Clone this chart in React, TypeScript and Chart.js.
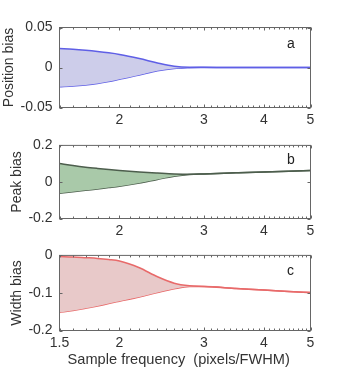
import React, { useEffect, useRef } from 'react';
import { Chart, registerables } from 'chart.js';

Chart.register(...registerables);

// ---- data ----
const SAMPLE_FREQ = [1.5, 1.6, 1.7, 1.8, 1.9, 2.0, 2.2, 2.4, 2.6, 2.8, 3.0, 3.5, 4.0, 4.5, 5.0];

const POSITION_UPPER = [0.0238, 0.0228, 0.0215, 0.02, 0.0183, 0.0163, 0.0112, 0.0057, 0.0016, 0.0003, 0.0002, 0.0001, 0.0001, 0.0, 0.0];
const POSITION_LOWER = [-0.0242, -0.0232, -0.0218, -0.02, -0.0176, -0.0148, -0.0095, -0.0042, -0.0012, -0.0003, -0.0001, 0.0, 0.0, 0.0, 0.0];

const PEAK_UPPER = [0.101, 0.09, 0.081, 0.074, 0.068, 0.063, 0.055, 0.049, 0.044, 0.042, 0.044, 0.05, 0.055, 0.059, 0.062];
const PEAK_LOWER = [-0.0625, -0.054, -0.046, -0.038, -0.031, -0.024, -0.006, 0.014, 0.031, 0.041, 0.044, 0.05, 0.055, 0.059, 0.062];

const WIDTH_UPPER = [-0.003, -0.004, -0.006, -0.008, -0.011, -0.015, -0.033, -0.057, -0.074, -0.081, -0.083, -0.088, -0.092, -0.096, -0.099];
const WIDTH_LOWER = [-0.152, -0.147, -0.141, -0.135, -0.128, -0.122, -0.111, -0.099, -0.089, -0.083, -0.083, -0.088, -0.092, -0.096, -0.099];

const X_TICKS_TOP = [2, 3, 4, 5];
const X_TICKS_BOTTOM = [1.5, 2, 3, 4, 5];
const Y_TICKS_POSITION = [-0.05, 0, 0.05];
const Y_TICKS_PEAK = [-0.2, 0, 0.2];
const Y_TICKS_WIDTH = [-0.2, -0.1, 0];

const Y_TITLES = ['Position bias', 'Peak bias', 'Width bias'];
const PANEL_LETTERS = ['a', 'b', 'c'];
const X_TITLE = 'Sample frequency  (pixels/FWHM)';

const FONT = '"Liberation Sans", Arial, Helvetica, sans-serif';
const TEXT = '#333333';

const framePlugin = {
  id: 'frame',
  afterDatasetsDraw(chart: any, _args: any, opts: any) {
    const { ctx, chartArea, scales } = chart;
    const { left, right, top, bottom } = chartArea;
    ctx.save();
    ctx.strokeStyle = '#666666';
    ctx.lineWidth = 1;
    ctx.strokeRect(left, top, right - left, bottom - top);
    ctx.beginPath();
    const xs = scales.x;
    for (let i = 15; i <= 50; i++) {
      const v = i / 10;
      const px = Math.round(xs.getPixelForValue(v)) + 0.5;
      const len = i % 10 === 0 ? 3 : 2;
      ctx.moveTo(px, bottom);
      ctx.lineTo(px, bottom - len);
      ctx.moveTo(px, top);
      ctx.lineTo(px, top + len);
    }
    const ys = scales.y;
    (opts.yTicks || []).forEach((v: number) => {
      const py = Math.round(ys.getPixelForValue(v)) + 0.5;
      ctx.moveTo(left, py);
      ctx.lineTo(left + 3, py);
      ctx.moveTo(right, py);
      ctx.lineTo(right - 3, py);
    });
    ctx.stroke();
    ctx.fillStyle = '#222222';
    ctx.font = '14px ' + FONT;
    ctx.textAlign = 'left';
    ctx.textBaseline = 'alphabetic';
    ctx.fillText(opts.letter, right - 23.5, top + opts.letterDy);
    ctx.restore();
  },
};

type Panel = {
  top: number;
  height: number;
  areaTop: number;
  areaBottom: number;
  upper: number[];
  lower: number[];
  line: string;
  fill: string;
  yMin: number;
  yMax: number;
  yTicks: number[];
  xTicks: number[];
  yTitle: string;
  yTitlePad: number;
  letter: string;
  letterDy: number;
  xTitle?: string;
};

const PANELS: Panel[] = [
  {
    top: 0, height: 130, areaTop: 27.5, areaBottom: 107.5,
    upper: POSITION_UPPER, lower: POSITION_LOWER,
    line: '#5f5fe6', fill: '#cdcdea',
    yMin: -0.05, yMax: 0.05, yTicks: Y_TICKS_POSITION, xTicks: X_TICKS_TOP,
    yTitle: Y_TITLES[0], yTitlePad: 1, letter: PANEL_LETTERS[0], letterDy: 20.5,
  },
  {
    top: 130, height: 110, areaTop: 138.5, areaBottom: 218.5,
    upper: PEAK_UPPER, lower: PEAK_LOWER,
    line: '#4d5e4d', fill: '#a9c9a9',
    yMin: -0.2, yMax: 0.2, yTicks: Y_TICKS_PEAK, xTicks: X_TICKS_TOP,
    yTitle: Y_TITLES[1], yTitlePad: 9, letter: PANEL_LETTERS[1], letterDy: 18.5,
  },
  {
    top: 240, height: 131, areaTop: 252.5, areaBottom: 330.5,
    upper: WIDTH_UPPER, lower: WIDTH_LOWER,
    line: '#e86a6a', fill: '#e8c9c9',
    yMin: -0.2, yMax: 0, yTicks: Y_TICKS_WIDTH, xTicks: X_TICKS_BOTTOM,
    yTitle: Y_TITLES[2], yTitlePad: 9, letter: PANEL_LETTERS[2], letterDy: 19.5, xTitle: X_TITLE,
  },
];

function PanelChart({ p }: { p: Panel }) {
  const ref = useRef<HTMLCanvasElement | null>(null);
  useEffect(() => {
    if (!ref.current) return;
    const xAxisHeight = p.top + p.height - p.areaBottom;
    const chart = new Chart(ref.current, {
      type: 'line',
      data: {
        datasets: [
          {
            data: SAMPLE_FREQ.map((x, i) => ({ x, y: p.upper[i] })),
            borderColor: p.line,
            backgroundColor: p.fill,
            borderWidth: 1.5,
            pointRadius: 0,
            cubicInterpolationMode: 'monotone',
            fill: '+1',
          },
          {
            data: SAMPLE_FREQ.map((x, i) => ({ x, y: p.lower[i] })),
            borderColor: p.line,
            backgroundColor: p.fill,
            borderWidth: 1.5,
            pointRadius: 0,
            cubicInterpolationMode: 'monotone',
            fill: false,
          },
        ],
      } as any,
      options: {
        responsive: false,
        animation: false,
        devicePixelRatio: 1,
        layout: { padding: { left: 0, right: 31.5, top: p.areaTop - p.top, bottom: 0 } },
        plugins: {
          legend: { display: false },
          tooltip: { enabled: false },
          frame: { letter: p.letter, letterDy: p.letterDy, yTicks: p.yTicks },
        } as any,
        scales: {
          x: {
            type: 'logarithmic',
            min: 1.5,
            max: 5,
            afterBuildTicks: (s: any) => { s.ticks = p.xTicks.map((v) => ({ value: v })); },
            afterFit: (s: any) => { s.height = xAxisHeight; },
            grid: { display: false, drawTicks: false },
            border: { display: false },
            ticks: {
              autoSkip: false, maxRotation: 0, minRotation: 0, padding: 4,
              color: TEXT, font: { family: FONT, size: 14 },
              callback: (v: any) => String(v),
            },
            title: {
              display: !!p.xTitle,
              text: p.xTitle ? '  ' + p.xTitle : '',
              align: 'start',
              color: TEXT,
              font: { family: FONT, size: 14.6 },
              padding: { top: 0, bottom: 2.5 },
            },
          },
          y: {
            type: 'linear',
            min: p.yMin,
            max: p.yMax,
            afterBuildTicks: (s: any) => { s.ticks = p.yTicks.map((v) => ({ value: v })); },
            afterFit: (s: any) => { s.width = 59.5; },
            grid: { display: false, drawTicks: false },
            border: { display: false },
            ticks: {
              padding: 7, color: TEXT, font: { family: FONT, size: 14 },
              callback: (v: any) => String(v),
            },
            title: {
              display: true,
              text: p.yTitle,
              color: TEXT,
              font: { family: FONT, size: 14 },
              padding: { top: p.yTitlePad, bottom: 0 },
            },
          },
        } as any,
      },
      plugins: [framePlugin as any],
    });
    return () => chart.destroy();
  }, [p]);
  return (
    <div style={{ position: 'absolute', left: 0, top: p.top, width: 342, height: p.height }}>
      <canvas ref={ref} width={342} height={p.height} style={{ width: 342, height: p.height, display: 'block' }} />
    </div>
  );
}

export default function App() {
  return (
    <div style={{ position: 'absolute', left: 0, top: 0, width: 342, height: 371, background: '#ffffff' }}>
      {PANELS.map((p, i) => (
        <PanelChart key={i} p={p} />
      ))}
    </div>
  );
}
